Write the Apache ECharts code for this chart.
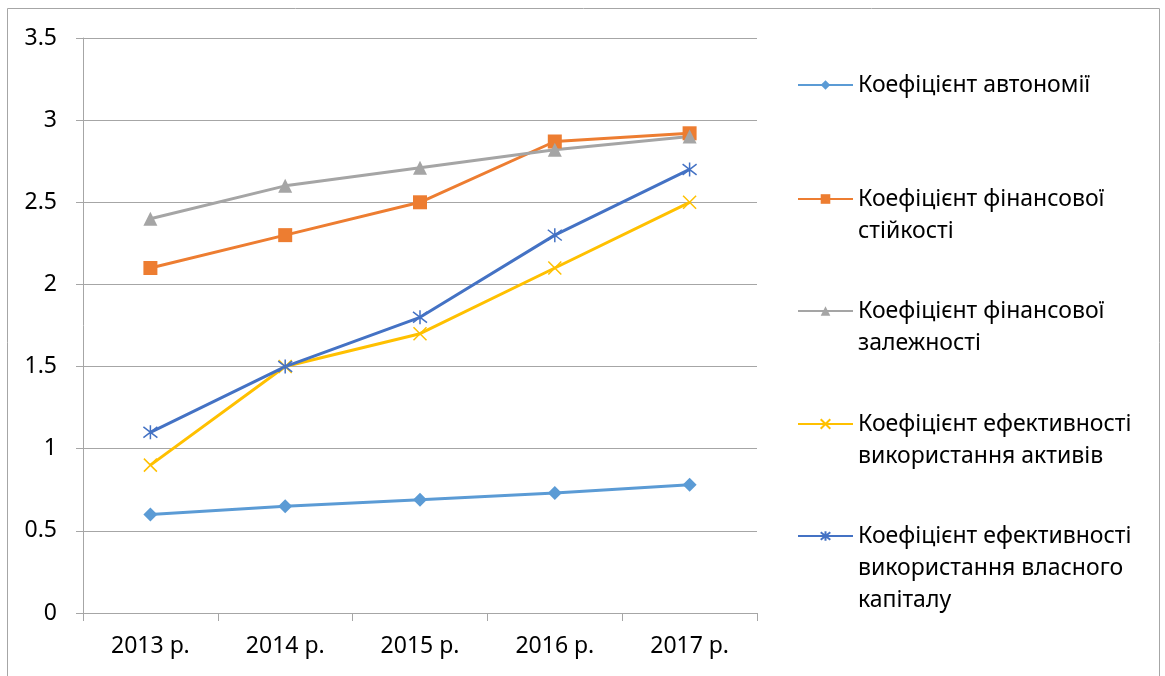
<!DOCTYPE html>
<html>
<head>
<meta charset="utf-8">
<script src="https://cdn.jsdelivr.net/npm/echarts@6/dist/echarts.min.js"></script>
<style>
  html, body { margin: 0; padding: 0; background: #fff; }
  #chart { width: 1165px; height: 676px; }
</style>
</head>
<body>
<div id="chart"></div>
<script>
  // роки
  var years = ['2013 р.', '2014 р.', '2015 р.', '2016 р.', '2017 р.']
  // значення коефіцієнтів
  var avtonomii = [0.6, 0.65, 0.69, 0.73, 0.78]
  var finStiikosti = [2.1, 2.3, 2.5, 2.87, 2.92]
  var finZalezhnosti = [2.4, 2.6, 2.71, 2.82, 2.9]
  var efAktyviv = [0.9, 1.5, 1.7, 2.1, 2.5]
  var efKapitalu = [1.1, 1.5, 1.8, 2.3, 2.7]
  var seriesNames = [
    'Коефіцієнт автономії',
    'Коефіцієнт фінансової\nстійкості',
    'Коефіцієнт фінансової\nзалежності',
    'Коефіцієнт ефективності\nвикористання активів',
    'Коефіцієнт ефективності\nвикористання власного\nкапіталу'
  ]

  var font = '"Noto Sans", sans-serif'
  var fs = 23
  var lineH = 32
  var iconY = [85, 199, 311, 424, 536]
  var colors = ['#5B9BD5', '#ED7D31', '#A5A5A5', '#FFC000', '#4472C4']

  // одна легенда на серію, щоб іконка стояла навпроти першого рядка
  var legends = seriesNames.map(function (name, i) {
    var n = name.split('\n').length
    return {
      data: [name],
      left: 797,
      top: iconY[i] - (2 * n - 1) * lineH / 2,
      padding: 0,
      itemWidth: 55,
      itemHeight: 12,
      itemGap: 0,
      selectedMode: false,
      formatter: function (nm) {
        return new Array(n).join('\n') + nm
      },
      textStyle: {
        fontFamily: font,
        fontSize: fs,
        color: '#000',
        lineHeight: lineH
      }
    }
  })

  function lineSeries (idx, data, symbol, size, extra) {
    var s = {
      name: seriesNames[idx],
      type: 'line',
      data: data,
      symbol: symbol,
      symbolSize: size,
      showAllSymbol: true,
      lineStyle: { color: colors[idx], width: 3 },
      itemStyle: { color: colors[idx] },
      emphasis: { disabled: true }
    }
    if (extra) s.itemStyle = extra
    return s
  }

  var chart = echarts.init(document.getElementById('chart'))
  chart.setOption({
    backgroundColor: '#fff',
    animation: false,
    color: colors,
    graphic: [{
      type: 'rect',
      shape: { x: 7.5, y: 8.5, width: 1152, height: 700 },
      style: { fill: 'none', stroke: '#A6A6A6', lineWidth: 1 },
      silent: true
    }],
    legend: legends,
    grid: { left: 83, right: 408, top: 38, bottom: 63 },
    xAxis: {
      type: 'category',
      data: years,
      boundaryGap: true,
      axisLine: { lineStyle: { color: '#A6A6A6', width: 1 } },
      axisTick: { show: true, length: 8, lineStyle: { color: '#A6A6A6' } },
      axisLabel: { color: '#000', fontFamily: font, fontSize: fs, margin: 22 },
      splitLine: { show: false }
    },
    yAxis: {
      type: 'value',
      min: 0,
      max: 3.5,
      interval: 0.5,
      axisLine: { show: true, lineStyle: { color: '#A6A6A6', width: 1 } },
      axisTick: { show: true, length: 7, lineStyle: { color: '#A6A6A6' } },
      axisLabel: { color: '#000', fontFamily: font, fontSize: fs, margin: 26 },
      splitLine: { lineStyle: { color: '#A6A6A6', width: 1 } }
    },
    series: [
      lineSeries(0, avtonomii, 'diamond', 14),
      lineSeries(1, finStiikosti, 'rect', 14),
      lineSeries(2, finZalezhnosti, 'triangle', 14),
      lineSeries(3, efAktyviv, 'path://M0,0L10,10M10,0L0,10', 13,
        { color: colors[3], borderColor: colors[3], borderWidth: 1.5 }),
      lineSeries(4, efKapitalu, 'path://M0,0L10,10M10,0L0,10M5,-1.5L5,11.5', 14,
        { color: colors[4], borderColor: colors[4], borderWidth: 1.5 })
    ]
  })
</script>
</body>
</html>
